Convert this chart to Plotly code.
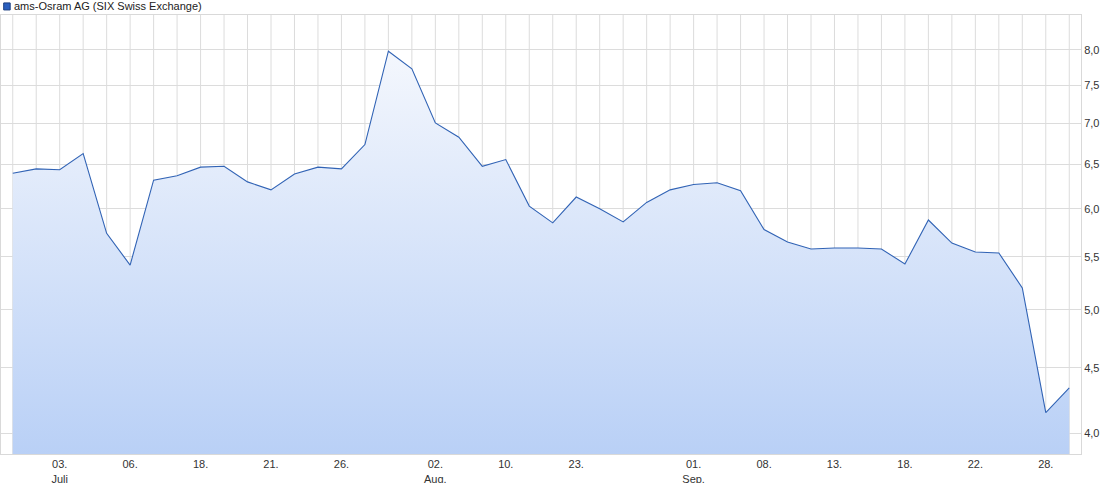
import plotly.graph_objects as go
import math

values = [6.40, 6.45, 6.44, 6.63, 5.74, 5.42, 6.32, 6.37, 6.47, 6.48,
          6.30, 6.21, 6.39, 6.47, 6.45, 6.74, 7.98, 7.73, 7.01, 6.83,
          6.48, 6.56, 6.03, 5.85, 6.13, 6.00, 5.86, 6.07, 6.21, 6.27,
          6.29, 6.20, 5.78, 5.65, 5.58, 5.59, 5.59, 5.58, 5.43, 5.88,
          5.64, 5.55, 5.54, 5.20, 4.15, 4.34]
x_idx = list(range(len(values)))
tick_pos = [2, 5, 8, 11, 14, 18, 21, 24, 29, 32, 35, 38, 41, 44]
tick_text = ["03.<br>Juli", "06.", "18.", "21.", "26.", "02.<br>Aug.", "10.", "23.",
             "01.<br>Sep.", "08.", "13.", "18.", "22.", "28."]
y_ticks = [4.0, 4.5, 5.0, 5.5, 6.0, 6.5, 7.0, 7.5, 8.0]
series_name = "ams-Osram AG (SIX Swiss Exchange)"

y_min, y_max = 3.851, 8.52

fig = go.Figure()
fig.add_trace(go.Scatter(
    x=x_idx, y=[y_min] * len(values), mode="lines",
    line=dict(width=0), hoverinfo="skip", showlegend=False))
fig.add_trace(go.Scatter(
    x=x_idx, y=values, mode="lines", name=series_name,
    line=dict(color="#3163b5", width=1.1),
    fill="tonexty",
    fillgradient=dict(type="vertical",
                      colorscale=[[0, "#b9d0f6"], [1, "#f4f7fd"]]),
    showlegend=False))

fig.update_layout(
    width=1105, height=483,
    margin=dict(l=1, r=24, t=15, b=29, autoexpand=False),
    paper_bgcolor="white", plot_bgcolor="white",
    separators=",.",
    font=dict(family="Liberation Sans, Arial, sans-serif", size=11, color="#333333"),
    xaxis=dict(range=[-0.5, 45.5], tickmode="array", tickvals=tick_pos,
               ticktext=tick_text, showgrid=False, zeroline=False, automargin=False,
               showline=True, linecolor="#d9d9d9", mirror=True,
               ticks="", tickfont=dict(size=11, color="#333333")),
    yaxis=dict(type="log", range=[math.log10(y_min), math.log10(y_max)],
               side="right", tickmode="array", tickvals=y_ticks, automargin=False,
               tickformat=".1f", showgrid=True, gridcolor="#dcdcdc",
               gridwidth=1, zeroline=False, showline=True, linecolor="#d9d9d9",
               mirror=True, ticks="", ticklen=0,
               tickfont=dict(size=11, color="#333333")),
    showlegend=False,
)

# vertical grid lines at every data point
for i in x_idx:
    fig.add_shape(type="line", xref="x", yref="paper", x0=i, x1=i, y0=0, y1=1,
                  line=dict(color="#dcdcdc", width=1), layer="below")

# legend marker and title
fig.add_shape(type="rect", xref="paper", yref="paper",
              x0=0.0025, x1=0.0085, y0=1.0115, y1=1.0275,
              fillcolor="#2a5fbf", line=dict(color="#1c3f80", width=1))
fig.add_annotation(text=series_name, xref="paper", yref="paper", x=0.0105, y=1.0195,
                   xanchor="left", yanchor="middle", showarrow=False,
                   font=dict(size=11, color="#222222"))

fig.write_html("out.html", config={"displayModeBar": False},
               post_script="document.body.style.margin='0';")
